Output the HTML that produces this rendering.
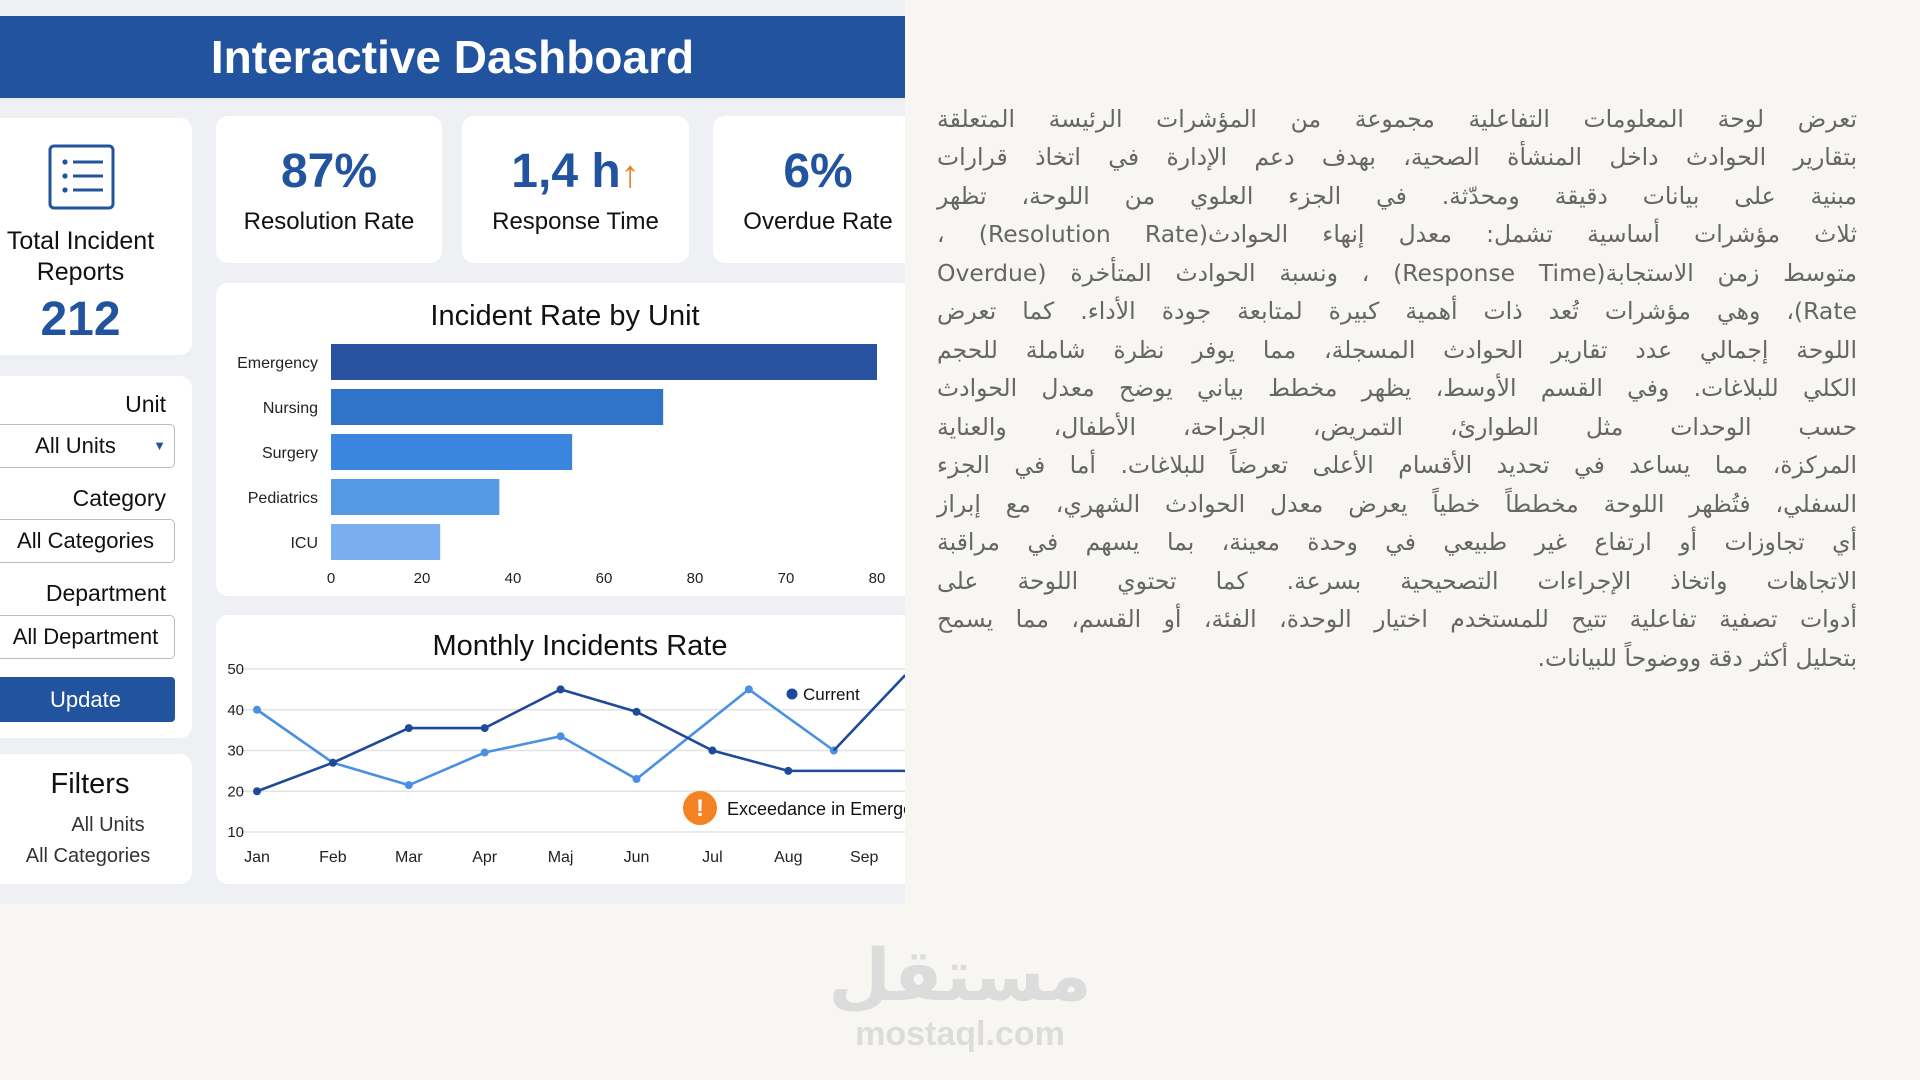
<!DOCTYPE html>
<html><head><meta charset="utf-8">
<style>
*{margin:0;padding:0;box-sizing:border-box}
body{width:1920px;height:1080px;background:#f7f6f2;position:relative;overflow:hidden;font-family:"Liberation Sans Narrow","Liberation Sans",sans-serif;color:#111}
.abs{position:absolute}
#dash{left:0;top:0;width:905px;height:904px;background:#eef0f4;overflow:hidden}
.card{position:absolute;background:#fff;border-radius:12px}
.hdr{left:0;top:16px;width:905px;height:82px;background:#22539f;color:#fff;font-size:46px;font-weight:bold;text-align:center;line-height:82px}
.kv{position:absolute;left:0;right:0;top:28px;text-align:center;font-size:48px;font-weight:bold;color:#22539f}
.kl{position:absolute;left:0;right:0;top:92px;text-align:center;font-size:24px}
.lab{position:absolute;right:26px;font-size:23px}
.box{position:absolute;left:8px;width:179px;height:44px;border:1.5px solid #bbb;border-radius:5px;background:#fff;font-size:22px;line-height:42px;text-align:center}
.ar{position:absolute;right:63px;width:920px;font-family:"DejaVu Sans",sans-serif;font-size:23.5px;color:#666;direction:rtl;text-align:justify;text-align-last:justify;white-space:nowrap;height:38px;line-height:38px}
</style></head><body>
<div id="dash" class="abs">
  <div class="abs hdr">Interactive Dashboard</div>
  <div class="card" style="left:-12px;top:118px;width:204px;height:237px">
    <svg class="abs" style="left:60px;top:26px" width="68" height="66">
      <rect x="2" y="2" width="63" height="62" rx="4" fill="none" stroke="#22539f" stroke-width="3"/>
      <circle cx="17" cy="18" r="2.6" fill="#22539f"/><circle cx="17" cy="32" r="2.6" fill="#22539f"/><circle cx="17" cy="46" r="2.6" fill="#22539f"/>
      <rect x="25" y="16.5" width="30" height="3" fill="#22539f"/><rect x="25" y="30.5" width="30" height="3" fill="#22539f"/><rect x="25" y="44.5" width="30" height="3" fill="#22539f"/>
    </svg>
    <div class="abs" style="left:0;width:185px;top:108px;text-align:center;font-size:25px;line-height:31px">Total Incident Reports</div>
    <div class="abs" style="left:0;width:185px;top:174px;text-align:center;font-size:48px;font-weight:bold;color:#22539f">212</div>
  </div>
  <div class="card" style="left:216px;top:116px;width:226px;height:147px">
    <div class="kv">87%</div><div class="kl">Resolution Rate</div></div>
  <div class="card" style="left:462px;top:116px;width:227px;height:147px">
    <div class="kv">1,4 h<span style="color:#f07c1a;font-weight:normal;font-size:38px">↑</span></div><div class="kl">Response Time</div></div>
  <div class="card" style="left:713px;top:116px;width:220px;height:147px">
    <div class="kv" style="right:10px">6%</div><div class="kl" style="right:10px">Overdue Rate</div></div>
  <div class="card" style="left:216px;top:283px;width:720px;height:313px"></div>
  <div class="card" style="left:216px;top:615px;width:720px;height:269px"></div>
  <div class="card" style="left:-12px;top:376px;width:204px;height:362px">
    <div class="lab" style="top:15px">Unit</div>
    <div class="box" style="top:48px;padding-right:20px">All Units<span style="position:absolute;right:8px;font-size:13px;color:#22539f">▼</span></div>
    <div class="lab" style="top:109px">Category</div>
    <div class="box" style="top:143px">All Categories</div>
    <div class="lab" style="top:204px">Department</div>
    <div class="box" style="top:239px">All Department</div>
    <div class="abs" style="left:8px;top:301px;width:179px;height:45px;background:#22539f;color:#fff;border-radius:4px;font-size:22px;line-height:45px;text-align:center">Update</div>
  </div>
  <div class="card" style="left:-12px;top:754px;width:204px;height:130px">
    <div class="abs" style="left:12px;width:180px;top:14px;text-align:center;font-size:29px">Filters</div>
    <div class="abs" style="left:70px;width:100px;top:60px;text-align:center;font-size:20px;color:#333">All Units</div>
    <div class="abs" style="left:30px;width:140px;top:91px;text-align:center;font-size:20px;color:#333">All Categories</div>
  </div>
  <svg id="charts" class="abs" style="left:0;top:0" width="905" height="904"></svg>
</div>

<div id="para">
<div class="ar" style="top:100px">تعرض لوحة المعلومات التفاعلية مجموعة من المؤشرات الرئيسة المتعلقة</div>
<div class="ar" style="top:138px">بتقارير الحوادث داخل المنشأة الصحية، بهدف دعم الإدارة في اتخاذ قرارات</div>
<div class="ar" style="top:177px">مبنية على بيانات دقيقة ومحدّثة. في الجزء العلوي من اللوحة، تظهر</div>
<div class="ar" style="top:215px">ثلاث مؤشرات أساسية تشمل: معدل إنهاء الحوادث(Resolution Rate) ،</div>
<div class="ar" style="top:254px">متوسط زمن الاستجابة(Response Time) ، ونسبة الحوادث المتأخرة (Overdue</div>
<div class="ar" style="top:292px">Rate)، وهي مؤشرات تُعد ذات أهمية كبيرة لمتابعة جودة الأداء. كما تعرض</div>
<div class="ar" style="top:331px">اللوحة إجمالي عدد تقارير الحوادث المسجلة، مما يوفر نظرة شاملة للحجم</div>
<div class="ar" style="top:369px">الكلي للبلاغات. وفي القسم الأوسط، يظهر مخطط بياني يوضح معدل الحوادث</div>
<div class="ar" style="top:408px">حسب الوحدات مثل الطوارئ، التمريض، الجراحة، الأطفال، والعناية</div>
<div class="ar" style="top:446px">المركزة، مما يساعد في تحديد الأقسام الأعلى تعرضاً للبلاغات. أما في الجزء</div>
<div class="ar" style="top:485px">السفلي، فتُظهر اللوحة مخططاً خطياً يعرض معدل الحوادث الشهري، مع إبراز</div>
<div class="ar" style="top:523px">أي تجاوزات أو ارتفاع غير طبيعي في وحدة معينة، بما يسهم في مراقبة</div>
<div class="ar" style="top:562px">الاتجاهات واتخاذ الإجراءات التصحيحية بسرعة. كما تحتوي اللوحة على</div>
<div class="ar" style="top:600px">أدوات تصفية تفاعلية تتيح للمستخدم اختيار الوحدة، الفئة، أو القسم، مما يسمح</div>
<div class="ar" style="top:639px;text-align-last:right">بتحليل أكثر دقة ووضوحاً للبيانات.</div>
</div>

<div class="abs" style="left:760px;top:930px;width:400px;text-align:center;font-family:'DejaVu Sans',sans-serif;font-weight:bold;font-size:72px;color:#dcdcdc;line-height:90px">مستقل</div>
<div class="abs" style="left:760px;top:1015px;width:400px;text-align:center;font-family:'Liberation Sans',sans-serif;font-weight:bold;font-size:34px;color:#dcdcdc">mostaql.com</div>

<script>
const barCategories = ["Emergency","Nursing","Surgery","Pediatrics","ICU"];
const barValues = [120,73,53,37,24];
const barTickValues = [0,20,40,60,80,100,120];
const barTickLabels = ["0","20","40","60","80","70","80"];
const months = ["Jan","Feb","Mar","Apr","Maj","Jun","Jul","Aug","Sep"];
const currentX = [0,1,2,3,4,5,6,7,8.54];
const currentValues = [20,27,35.5,35.5,45,39.5,30,25,25];
const previousX = [0,1,2,3,4,5,6.48,7.6];
const previousValues = [40,27,21.5,29.5,33.5,23,45,30];
const spikeX = [7.6,8.54];
const spikeValues = [30,48.5];
const lineTicks = [10,20,30,40,50];

const NS="http://www.w3.org/2000/svg";
const svg=document.getElementById('charts');
function mk(tag,attrs,parent){const e=document.createElementNS(NS,tag);for(const k in attrs)e.setAttribute(k,attrs[k]);(parent||svg).appendChild(e);return e;}

// Bar chart
const bx=v=>331+v/120*546;
const by=i=>362+i*45;
const barColors=["#2953a0","#2f74c8","#3a86de","#5599e2","#7aaeee"];
let t=mk('text',{x:565,y:325,'text-anchor':'middle','font-size':29,fill:'#111'});t.textContent='Incident Rate by Unit';


barCategories.forEach((c,i)=>{
  const r=mk('rect',{x:bx(0),y:by(i)-18,width:bx(barValues[i])-bx(0),height:36,fill:barColors[i]});
  
  
  const l=mk('text',{x:318,y:by(i)+6,'text-anchor':'end','font-size':16,fill:'#222'});l.textContent=c;
  
  
});
barTickValues.forEach((v,i)=>{
  const l=mk('text',{x:bx(v),y:583,'text-anchor':'middle','font-size':15,fill:'#222'});l.textContent=barTickLabels[i];
  
  
});

// Line chart
const lx=i=>257+i*75.9;
const ly=v=>669+(50-v)*4.075;
t=mk('text',{x:580,y:655,'text-anchor':'middle','font-size':29,fill:'#111'});t.textContent='Monthly Incidents Rate';


lineTicks.forEach(v=>{
  const g=mk('line',{x1:238,x2:905,y1:ly(v),y2:ly(v),stroke:'#e3e3e3','stroke-width':1.5});
  
  
  const l=mk('text',{x:244,y:ly(v)+5,'text-anchor':'end','font-size':15,fill:'#222'});l.textContent=v;
  
  
});
months.forEach((m,i)=>{
  const l=mk('text',{x:lx(i),y:862,'text-anchor':'middle','font-size':16,fill:'#222'});l.textContent=m;
  
  
});
function series(xs,vs,color,name,dots){
  const p=mk('polyline',{points:xs.map((x,i)=>lx(x)+','+ly(vs[i])).join(' '),fill:'none',stroke:color,'stroke-width':2.6});
  
  
  xs.forEach((x,i)=>{if(i<dots){const c=mk('circle',{cx:lx(x),cy:ly(vs[i]),r:4,fill:color});
    
    }});
}
series(previousX,previousValues,'#4a90e2','previous',previousX.length);
series(spikeX,spikeValues,'#1e4a9a','spike',0);
series(currentX,currentValues,'#1e4a9a','current',8);
let c=mk('circle',{cx:792,cy:694,r:5.5,fill:'#1e4a9a'});


t=mk('text',{x:803,y:700,'font-size':17,fill:'#111'});t.textContent='Current';


c=mk('circle',{cx:700,cy:808,r:17,fill:'#f58220'});


t=mk('text',{x:700,y:816,'text-anchor':'middle','font-size':24,'font-weight':'bold',fill:'#fff'});t.textContent='!';


t=mk('text',{x:727,y:815,'font-size':18,fill:'#111'});t.textContent='Exceedance in Emergency';


</script>
</body></html>
